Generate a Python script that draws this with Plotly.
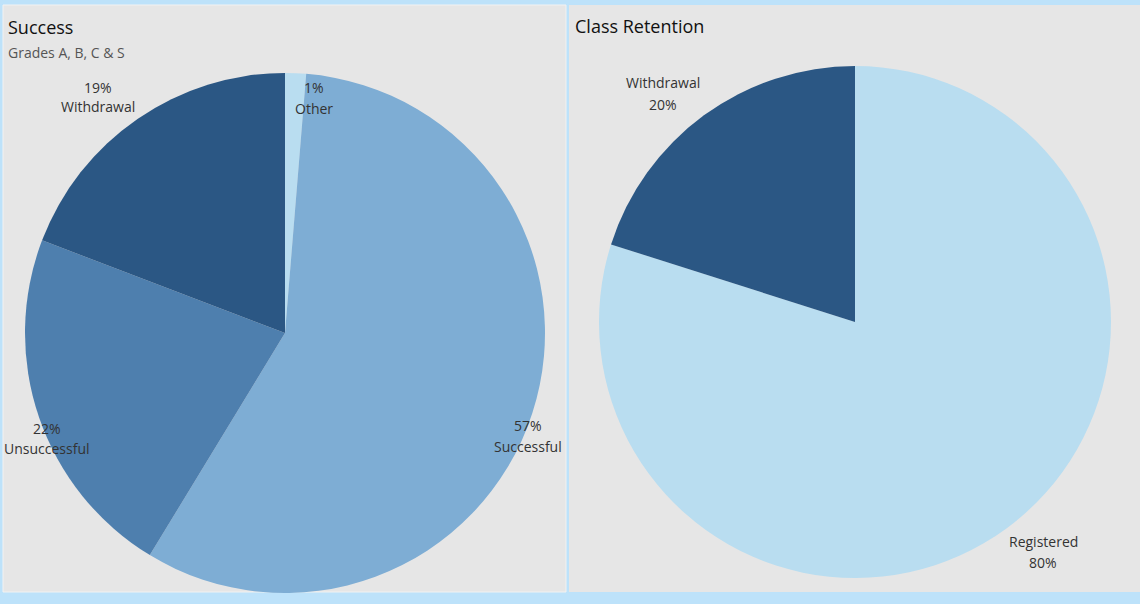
import plotly.graph_objects as go

W, H = 1140, 604

# ---- data ----
success_labels = ["Other", "Successful", "Unsuccessful", "Withdrawal"]
success_values = [1.3, 57.4, 22.1, 19.2]
success_colors = ["#b9ddf0", "#7eadd4", "#4e7fae", "#2b5784"]

retention_labels = ["Registered", "Withdrawal"]
retention_values = [79.9, 20.1]
retention_colors = ["#b9ddf0", "#2b5784"]

BG_BLUE = "#bde2fa"
PANEL = "#e6e6e6"
FONT = "Open Sans"


def px(x):
    return x / W


def py(y):
    return 1 - y / H


fig = go.Figure()

fig.add_trace(go.Pie(
    labels=success_labels, values=success_values, sort=False,
    direction="clockwise", rotation=0,
    marker=dict(colors=success_colors, line=dict(width=0)),
    textinfo="none", hoverinfo="label+percent",
    domain=dict(x=[px(25), px(545)], y=[py(593), py(73)]),
    showlegend=False,
))

fig.add_trace(go.Pie(
    labels=retention_labels, values=retention_values, sort=False,
    direction="clockwise", rotation=0,
    marker=dict(colors=retention_colors, line=dict(width=0)),
    textinfo="none", hoverinfo="label+percent",
    domain=dict(x=[px(599), px(1111)], y=[py(578), py(66)]),
    showlegend=False,
))

shapes = [
    dict(type="rect", xref="paper", yref="paper",
         x0=px(3), x1=px(566), y0=py(592), y1=py(5),
         fillcolor=PANEL, line=dict(color="#f2f2f2", width=1), layer="below"),
    dict(type="rect", xref="paper", yref="paper",
         x0=px(569), x1=px(1141), y0=py(592), y1=py(5),
         fillcolor=PANEL, line=dict(width=0), layer="below"),
]

annotations = []


def txt(x, y, s, size=14, color="#333333", anchor="center"):
    annotations.append(dict(
        x=px(x), y=py(y), xref="paper", yref="paper", text=s,
        showarrow=False, xanchor=anchor, yanchor="middle",
        font=dict(family=FONT, size=size, color=color),
    ))


# titles
txt(6, 27, "Success", size=18, color="#111111", anchor="left")
txt(6, 52, "Grades A, B, C & S", size=14, color="#555555", anchor="left")
txt(573, 26, "Class Retention", size=18, color="#111111", anchor="left")

s_total = sum(success_values)
s_pct = {l: f"{round(v / s_total * 100)}%" for l, v in zip(success_labels, success_values)}
r_total = sum(retention_values)
r_pct = {l: f"{round(v / r_total * 100)}%" for l, v in zip(retention_labels, retention_values)}

# success labels (percent above name)
label_pos_success = {
    "Withdrawal": (98, 87, 107),
    "Other": (314, 87, 108),
    "Unsuccessful": (47, 428, 448),
    "Successful": (528, 425, 446),
}
for lab, (x, y1, y2) in label_pos_success.items():
    txt(x, y1, s_pct[lab])
    txt(x, y2, lab)

# retention labels (name above percent)
label_pos_ret = {
    "Withdrawal": (663, 83, 104),
    "Registered": (1043, 541, 562),
}
for lab, (x, y1, y2) in label_pos_ret.items():
    txt(x, y1, lab)
    txt(x, y2, r_pct[lab])

fig.update_layout(
    width=W, height=H,
    margin=dict(l=0, r=0, t=0, b=0),
    paper_bgcolor=BG_BLUE,
    plot_bgcolor=BG_BLUE,
    shapes=shapes,
    annotations=annotations,
    font=dict(family=FONT),
)

fig.write_html(
    "out.html",
    config={"displayModeBar": False},
    post_script="document.body.style.margin='0';document.body.style.overflow='hidden';",
)
